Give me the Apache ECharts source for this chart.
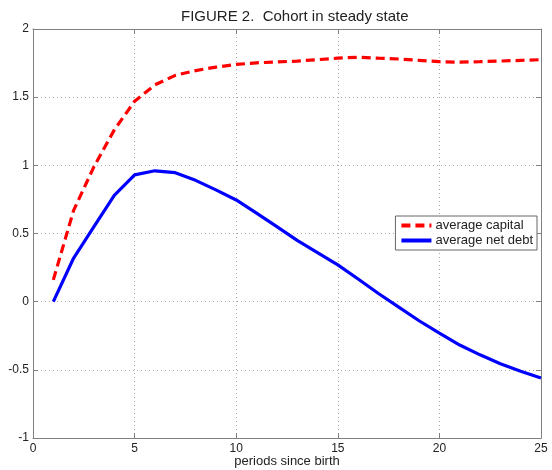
<!DOCTYPE html>
<html><head><meta charset="utf-8">
<script src="https://cdn.jsdelivr.net/npm/echarts@6/dist/echarts.min.js"></script>
<style>html,body{margin:0;padding:0;background:#fff}#c{width:552px;height:470px}</style>
</head><body><div id="c"></div>
<script>
const periods = [1,2,3,4,5,6,7,8,9,10,11,12,13,14,15,16,17,18,19,20,21,22,23,24,25];
const avgCapital = [0.16,0.67,0.99,1.26,1.47,1.59,1.66,1.695,1.72,1.74,1.752,1.758,1.765,1.775,1.786,1.793,1.786,1.78,1.77,1.76,1.757,1.76,1.765,1.77,1.775];
const avgNetDebt = [0.0,0.32,0.55,0.78,0.93,0.96,0.946,0.89,0.82,0.746,0.65,0.55,0.45,0.36,0.27,0.166,0.06,-0.04,-0.14,-0.23,-0.318,-0.39,-0.455,-0.51,-0.56];
const titleText = 'FIGURE 2.  Cohort in steady state';
const xName = 'periods since birth';
const seriesNames = ['average capital','average net debt'];

const font = 'Arial, "Liberation Sans", sans-serif';
const chart = echarts.init(document.getElementById('c'));
const pair = (xs, ys) => xs.map((x,i)=>[x, ys[i]]);
const gridLine = {show:true, lineStyle:{color:'#aaa', type:[1,3], width:1}};
const frameLine = {show:true, onZero:false, lineStyle:{color:'#808080', width:1}};
const tick = {show:true, inside:true, length:5, lineStyle:{color:'#808080'}};
chart.setOption({
  animation:false,
  title:{text:titleText, left:176, top:4, textStyle:{fontFamily:font, fontSize:15, fontWeight:'normal', color:'#222'}},
  grid:{left:33, right:11, top:29, bottom:32, show:false, containLabel:false, outerBoundsMode:'none'},
  legend:{
    orient:'vertical', right:15, top:216, data:seriesNames,
    backgroundColor:'#fff', borderColor:'#666', borderWidth:1, borderRadius:0,
    padding:[3,4,3,4], itemGap:2, itemWidth:30, itemHeight:12,
    itemStyle:{opacity:0}, lineStyle:{width:4},
    textStyle:{fontFamily:font, fontSize:13, color:'#222', padding:[0,0,0,-1]}
  },
  xAxis:[
    {type:'value', min:0, max:25, interval:5, position:'bottom',
     name:xName, nameLocation:'middle', nameGap:17, nameMoveOverlap:false,
     nameTextStyle:{fontFamily:font, fontSize:13, color:'#222'},
     axisLine:frameLine, axisTick:tick,
     axisLabel:{fontFamily:font, fontSize:12, color:'#222', margin:5},
     splitLine:gridLine},
    {type:'value', min:0, max:25, interval:5, position:'top',
     axisLine:frameLine, axisTick:tick,
     axisLabel:{show:false}, splitLine:{show:false}}
  ],
  yAxis:[
    {type:'value', min:-1, max:2, interval:0.5, position:'left',
     axisLine:frameLine, axisTick:tick,
     axisLabel:{fontFamily:font, fontSize:12, color:'#222', margin:4},
     splitLine:gridLine},
    {type:'value', min:-1, max:2, interval:0.5, position:'right',
     axisLine:frameLine, axisTick:tick,
     axisLabel:{show:false}, splitLine:{show:false}}
  ],
  series:[
    {name:seriesNames[0], type:'line', data:pair(periods, avgCapital), showSymbol:false, symbol:'none',
     lineStyle:{color:'#ff0000', width:3.2, type:[9,5]}, itemStyle:{color:'#ff0000'}},
    {name:seriesNames[1], type:'line', data:pair(periods, avgNetDebt), showSymbol:false, symbol:'none',
     lineStyle:{color:'#0000ff', width:3.2}, itemStyle:{color:'#0000ff'}}
  ]
});
</script></body></html>
